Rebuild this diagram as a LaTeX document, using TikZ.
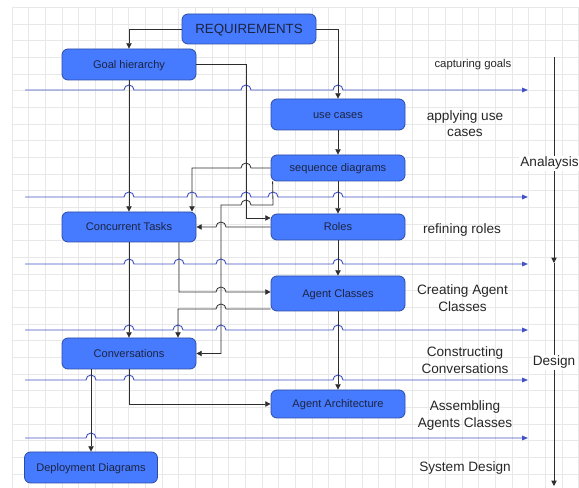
\documentclass[tikz,border=0pt]{standalone}
\usepackage{fontspec}
\setmainfont{Liberation Sans}
\usetikzlibrary{arrows.meta,calc}
\definecolor{boxfill}{RGB}{70,123,255}
\definecolor{boxdraw}{RGB}{45,75,165}
\definecolor{boxtext}{RGB}{28,36,64}
\definecolor{lanec}{RGB}{64,82,196}
\definecolor{connc}{RGB}{45,45,45}
\definecolor{gridc}{RGB}{232,232,232}
\newcommand\lanedraw[2]{%
  \coordinate (ls#1) at (25,#1);
  \coordinate (le#1) at (528,#1);
  \draw[lane] (ls#1) \foreach \xx in {#2}{ -- (\xx-5,#1) arc[start angle=180,end angle=360,radius=5] } -- (le#1);}
\begin{document}
\begin{tikzpicture}[x=0.75pt,y=-0.75pt,
 box/.style={draw=boxdraw, fill=boxfill, rounded corners=4.5pt, line width=0.6pt, text=boxtext,
   font=\fontsize{8.3}{10}\selectfont, minimum width=100.5pt, inner sep=0pt, text height=6.3pt, text depth=0.6pt},
 conn/.style={draw=connc, line width=0.6pt, -{Triangle[length=4pt,width=4pt]}},
 lane/.style={draw=lanec, line width=0.7pt, -{Triangle[length=4.5pt,width=3.5pt]}},
 lbl/.style={font=\fontsize{10.2}{12.4}\selectfont, align=center, text=black!85, inner sep=0pt, yshift=-1.1pt},
 gridl/.style={draw=gridc, line width=0.5pt}]
\useasboundingbox (0,0) rectangle (579,488);
% grid
\foreach \i in {0,...,34} \draw[gridl] (12+\i*16.667,7.3) -- (12+\i*16.667,488);
\foreach \i in {0,...,28} \draw[gridl] (12,7.3+\i*16.667) -- (579,7.3+\i*16.667);
% nodes
\node[box, minimum height=22.5pt, font=\fontsize{10}{12}\selectfont, text height=7.5pt, text depth=0.5pt] (req) at (249,29) {REQUIREMENTS};
\node[box, minimum height=23.25pt] (goal) at (129,64.5) {Goal hierarchy};
\node[box, minimum height=23.25pt] (uc) at (338,114.5) {use cases};
\node[box, minimum height=19.5pt] (seq) at (338,168) {sequence diagrams};
\node[box, minimum height=22.5pt] (ct) at (129,227) {Concurrent Tasks};
\node[box, minimum height=19.5pt] (roles) at (338,227) {Roles};
\node[box, minimum height=26.25pt] (ac) at (338,293.5) {Agent Classes};
\node[box, minimum height=23.25pt] (conv) at (129,353.5) {Conversations};
\node[box, minimum height=21pt] (aa) at (338,404) {Agent Architecture};
\node[box, minimum height=23.25pt, minimum width=99.75pt] (dep) at (91,467.5) {Deployment Diagrams};
% labels
\node[lbl, font=\fontsize{8.5}{10}\selectfont] (t1) at (473,63) {capturing goals};
\node[lbl] (t2) at (465,122) {applying use\\cases};
\node[lbl] (t3) at (462,229) {refining roles};
\node[lbl] (t4) at (462.5,296.5) {Creating Agent\\Classes};
\node[lbl] (t5) at (465,358.5) {Constructing\\Conversations};
\node[lbl] (t6) at (465,414) {Assembling\\Agents Classes};
\node[lbl] (t7) at (465,467) {System Design};
% lanes
\lanedraw{90}{129,246,338}
\lanedraw{197}{129,192,246,273,338}
\lanedraw{264}{129,179,221,338}
\lanedraw{330}{129,178,221,338}
\lanedraw{380}{91,129,338}
\lanedraw{438}{91}
% connectors
\draw[conn] (req.west) -| (goal.north);
\draw[conn] (req.east) -| (uc.north);
\draw[conn] (goal.south) -- (ct.north);
\draw[conn] (goal.east) -- (246,64.5) -- (246,218) -- ($(roles.west)+(0,-9)$);
\draw[conn] (uc.south) -- (seq.north);
\draw[conn] (seq.west) -- (251,168) arc[start angle=0,end angle=-180,radius=5] -- (192,168) -- ($(ct.north)+(63,0)$);
\draw[conn] (seq.south) -- (roles.north);
\draw[conn] (roles.west) -- (226,227) arc[start angle=0,end angle=-180,radius=5] -- (ct.east);
\draw[conn] ($(seq.south west)+(2,0)$) -- (273,205) -- (251,205) arc[start angle=0,end angle=-180,radius=5] -- (221,205) -- (221,353.5) -- (conv.east);
\draw[conn] ($(ct.south)+(50,0)$) -- (179,292) -- (216,292) arc[start angle=180,end angle=360,radius=5] -- ($(ac.west)+(0,-1.5)$);
\draw[conn] ($(ac.west)+(0,15.5)$) -- (226,309) arc[start angle=0,end angle=-180,radius=5] -- (178,309) -- ($(conv.north)+(49,0)$);
\draw[conn] (ct.south) -- (conv.north);
\draw[conn] (roles.south) -- (ac.north);
\draw[conn] (ac.south) -- (aa.north);
\draw[conn] (conv.south) |- (aa.west);
\draw[conn] ($(conv.south)+(-38,0)$) -- (dep.north);
% phase axis
\coordinate (ax1) at (554,57);
\coordinate (ax2) at (554,263);
\coordinate (ax3) at (554,486);
\draw[conn] (ax1) -- (ax2);
\draw[conn] (ax2) -- (ax3);
\node[lbl, fill=white, inner sep=0.8pt] (an) at (549.5,162) {Analaysis};
\node[lbl, fill=white, inner sep=1pt] (de) at (554,361) {Design};
\end{tikzpicture}
\end{document}
